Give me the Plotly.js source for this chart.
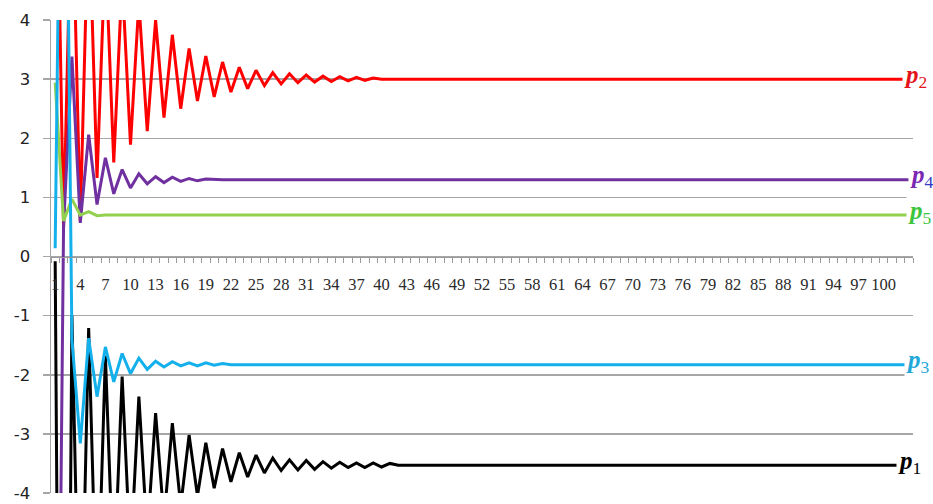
<!DOCTYPE html>
<html><head><meta charset="utf-8">
<script src="https://cdn.plot.ly/plotly-3.0.1.min.js"></script>
<style>html,body{margin:0;padding:0;background:#fff}#chart{width:933px;height:504px}</style>
</head><body><div id="chart"></div>
<script>
// category axis: 103 iterations, labels every 3rd up to 100
const categories = Array.from({length: 103}, (_, i) => i + 1);
const tickLabels = [1,4,7,10,13,16,19,22,25,28,31,34,37,40,43,46,49,52,55,58,61,64,67,70,73,76,79,82,85,88,91,94,97,100];

const p1 = [-0.08,-20,-1.0,-7.5,-1.21,-6.3,-1.68,-5.6,-2.03,-5.1,
  -2.37,-4.73,-2.65,-4.45,-2.82,-4.22,-3.02,-4.05,-3.15,-3.92,
  -3.25,-3.81,-3.32,-3.73,-3.36,-3.66,-3.41,-3.62,-3.44,-3.61,
  -3.45,-3.60,-3.47,-3.58,-3.48,-3.57,-3.49,-3.57,-3.49,-3.56,
  -3.50,-3.53,-3.53,-3.53,-3.53,-3.53,-3.53,-3.53,-3.53,-3.53,
  -3.53,-3.53,-3.53,-3.53,-3.53,-3.53,-3.53,-3.53,-3.53,-3.53,
  -3.53,-3.53,-3.53,-3.53,-3.53,-3.53,-3.53,-3.53,-3.53,-3.53,
  -3.53,-3.53,-3.53,-3.53,-3.53,-3.53,-3.53,-3.53,-3.53,-3.53,
  -3.53,-3.53,-3.53,-3.53,-3.53,-3.53,-3.53,-3.53,-3.53,-3.53,
  -3.53,-3.53,-3.53,-3.53,-3.53,-3.53,-3.53,-3.53,-3.53,-3.53,
  -3.53,-3.53,-3.53];

const p2 = [8.5,0.5,6.5,0.6,6.0,1.33,5.2,1.59,4.7,1.89,
  4.3,2.12,4.0,2.35,3.75,2.50,3.52,2.63,3.39,2.70,
  3.29,2.78,3.20,2.84,3.15,2.89,3.11,2.92,3.09,2.94,
  3.07,2.95,3.05,2.96,3.04,2.97,3.03,2.98,3.02,3.0,
  3.0,3.0,3.0,3.0,3.0,3.0,3.0,3.0,3.0,3.0,
  3.0,3.0,3.0,3.0,3.0,3.0,3.0,3.0,3.0,3.0,
  3.0,3.0,3.0,3.0,3.0,3.0,3.0,3.0,3.0,3.0,
  3.0,3.0,3.0,3.0,3.0,3.0,3.0,3.0,3.0,3.0,
  3.0,3.0,3.0,3.0,3.0,3.0,3.0,3.0,3.0,3.0,
  3.0,3.0,3.0,3.0,3.0,3.0,3.0,3.0,3.0,3.0,
  3.0,3.0,3.0];

const p3 = [0.14,12,-1.4,-3.16,-1.38,-2.37,-1.53,-2.12,-1.64,-1.98,
  -1.72,-1.91,-1.77,-1.87,-1.78,-1.85,-1.80,-1.85,-1.80,-1.84,
  -1.81,-1.83,-1.83,-1.83,-1.83,-1.83,-1.83,-1.83,-1.83,-1.83,
  -1.83,-1.83,-1.83,-1.83,-1.83,-1.83,-1.83,-1.83,-1.83,-1.83,
  -1.83,-1.83,-1.83,-1.83,-1.83,-1.83,-1.83,-1.83,-1.83,-1.83,
  -1.83,-1.83,-1.83,-1.83,-1.83,-1.83,-1.83,-1.83,-1.83,-1.83,
  -1.83,-1.83,-1.83,-1.83,-1.83,-1.83,-1.83,-1.83,-1.83,-1.83,
  -1.83,-1.83,-1.83,-1.83,-1.83,-1.83,-1.83,-1.83,-1.83,-1.83,
  -1.83,-1.83,-1.83,-1.83,-1.83,-1.83,-1.83,-1.83,-1.83,-1.83,
  -1.83,-1.83,-1.83,-1.83,-1.83,-1.83,-1.83,-1.83,-1.83,-1.83,
  -1.83,-1.83,-1.83];

const p4 = [-14,0.5,3.38,0.57,2.06,0.88,1.67,1.06,1.47,1.16,
  1.40,1.23,1.35,1.25,1.34,1.27,1.32,1.28,1.31,1.30,
  1.30,1.30,1.30,1.30,1.30,1.30,1.30,1.30,1.30,1.30,
  1.30,1.30,1.30,1.30,1.30,1.30,1.30,1.30,1.30,1.30,
  1.30,1.30,1.30,1.30,1.30,1.30,1.30,1.30,1.30,1.30,
  1.30,1.30,1.30,1.30,1.30,1.30,1.30,1.30,1.30,1.30,
  1.30,1.30,1.30,1.30,1.30,1.30,1.30,1.30,1.30,1.30,
  1.30,1.30,1.30,1.30,1.30,1.30,1.30,1.30,1.30,1.30,
  1.30,1.30,1.30,1.30,1.30,1.30,1.30,1.30,1.30,1.30,
  1.30,1.30,1.30,1.30,1.30,1.30,1.30,1.30,1.30,1.30,
  1.30,1.30,1.30];

const p5 = [2.94,0.6,0.97,0.70,0.76,0.69,0.70,0.70,0.70,0.70,
  0.70,0.70,0.70,0.70,0.70,0.70,0.70,0.70,0.70,0.70,
  0.70,0.70,0.70,0.70,0.70,0.70,0.70,0.70,0.70,0.70,
  0.70,0.70,0.70,0.70,0.70,0.70,0.70,0.70,0.70,0.70,
  0.70,0.70,0.70,0.70,0.70,0.70,0.70,0.70,0.70,0.70,
  0.70,0.70,0.70,0.70,0.70,0.70,0.70,0.70,0.70,0.70,
  0.70,0.70,0.70,0.70,0.70,0.70,0.70,0.70,0.70,0.70,
  0.70,0.70,0.70,0.70,0.70,0.70,0.70,0.70,0.70,0.70,
  0.70,0.70,0.70,0.70,0.70,0.70,0.70,0.70,0.70,0.70,
  0.70,0.70,0.70,0.70,0.70,0.70,0.70,0.70,0.70,0.70,
  0.70,0.70,0.70];

const yTicks = [-4,-3,-2,-1,0,1,2,3,4];

const series = [
  {name:'p1', y:p1, color:'#000000', labelColor:'#000000', subColor:'#000000', sub:'1', shift:-13},
  {name:'p2', y:p2, color:'#ff0000', labelColor:'#e4141b', subColor:'#e4141b', sub:'2', shift:-7},
  {name:'p4', y:p4, color:'#7030a0', labelColor:'#7a28b4', subColor:'#2f3bc4', sub:'4', shift:-1},
  {name:'p5', y:p5, color:'#92d050', labelColor:'#3cc43c', subColor:'#3cc43c', sub:'5', shift:-3},
  {name:'p3', y:p3, color:'#14b0ec', labelColor:'#22a8d8', subColor:'#22a8d8', sub:'3', shift:-5}
];

const traces = series.map(s => ({
  type:'scatter', mode:'lines', x:categories, y:s.y, name:s.name,
  line:{color:s.color, width:3}, hoverinfo:'skip'
}));

const annotations = series.map(s => ({
  xref:'x', yref:'y', x:categories[categories.length-1], y:s.y[s.y.length-1],
  xanchor:'left', yanchor:'middle', xshift:s.shift, yshift:3, showarrow:false,
  bgcolor:'#ffffff', borderpad:1,
  text:'<b><i>p</i></b><sub><span style="color:'+s.subColor+'">'+s.sub+'</span></sub>',
  font:{family:'Liberation Serif', size:25, color:s.labelColor}
}));

const boundaries = categories.map(c => c - 0.5).concat([categories.length + 0.5]);

const layout = {
  width:933, height:504,
  margin:{l:51, r:20, t:20, b:11, pad:0},
  paper_bgcolor:'#ffffff', plot_bgcolor:'#ffffff',
  showlegend:false,
  font:{family:'Liberation Serif', size:16, color:'#2a2a2a'},
  xaxis:{
    range:[0.5, 103.5], anchor:'free', position:0.5,
    showgrid:false, zeroline:false,
    showline:true, linecolor:'#9a9a9a', linewidth:1.5,
    tickmode:'array', tickvals:tickLabels, ticktext:tickLabels.map(String),
    ticks:'', ticklabelstandoff:12,
    tickfont:{family:'Liberation Serif', size:16.5, color:'#2a2a2a'},
    minor:{tickmode:'array', tickvals:boundaries, ticks:'outside', ticklen:5, tickcolor:'#9a9a9a', tickwidth:1, showgrid:false}
  },
  yaxis:{
    range:[-4,4], tickmode:'array', tickvals:yTicks, ticktext:yTicks.map(String),
    showgrid:true, gridcolor:'#a6a6a6', gridwidth:1.5, zeroline:false,
    showline:true, linecolor:'#a6a6a6', linewidth:1.5,
    ticks:'outside', ticklen:7, tickcolor:'#a6a6a6', tickwidth:1.5,
    ticklabelstandoff:9,
    tickfont:{family:'DejaVu Sans', size:16.5, color:'#222222'}
  },
  annotations:annotations
};

Plotly.newPlot('chart', traces, layout, {staticPlot:true, displayModeBar:false});
</script>
</body></html>
